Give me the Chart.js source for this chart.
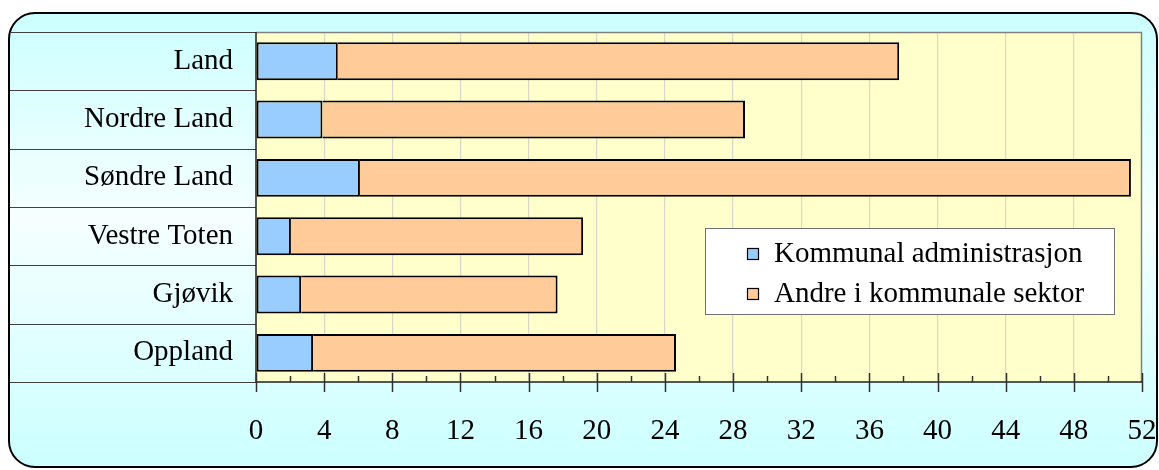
<!DOCTYPE html>
<html>
<head>
<meta charset="utf-8">
<script src="https://cdn.jsdelivr.net/npm/chart.js@4.4.0/dist/chart.umd.min.js"></script>
<style>
  html, body { margin: 0; padding: 0; background: #fff; }
  #wrap { width: 1159px; height: 470px; }
</style>
</head>
<body>
<div id="wrap"><canvas id="myChart"></canvas></div>
<script>
// data
var categories = ['Land', 'Nordre Land', 'Søndre Land', 'Vestre Toten', 'Gjøvik', 'Oppland'];
var adminValues = [4.8, 3.9, 6.1, 2.05, 2.65, 3.35];
var otherValues = [32.95, 24.8, 45.25, 17.15, 15.05, 21.3];
var seriesNames = ['Kommunal administrasjon', 'Andre i kommunale sektor'];
var seriesColors = ['#99CCFF', '#FFCC99'];
var xMin = 0, xMax = 52, xStep = 4;

var FONT = '"Liberation Serif", "Times New Roman", serif';
var FSIZE = 29;

function roundRect(ctx, x, y, w, h, r) {
  ctx.beginPath();
  ctx.moveTo(x + r, y);
  ctx.lineTo(x + w - r, y);
  ctx.arcTo(x + w, y, x + w, y + r, r);
  ctx.lineTo(x + w, y + h - r);
  ctx.arcTo(x + w, y + h, x + w - r, y + h, r);
  ctx.lineTo(x + r, y + h);
  ctx.arcTo(x, y + h, x, y + h - r, r);
  ctx.lineTo(x, y + r);
  ctx.arcTo(x, y, x + r, y, r);
  ctx.closePath();
}

var framePlugin = {
  id: 'frame',
  beforeDraw: function(chart) {
    var ctx = chart.ctx, a = chart.chartArea;
    ctx.save();
    ctx.fillStyle = '#ffffff';
    ctx.fillRect(0, 0, chart.width, chart.height);
    var g = ctx.createLinearGradient(0, 13, 0, 467);
    g.addColorStop(0, '#CCFFFF');
    g.addColorStop(0.45, '#F6FFFF');
    g.addColorStop(1, '#CCFFFF');
    roundRect(ctx, 9, 13, 1148, 454, 26);
    ctx.fillStyle = g;
    ctx.fill();
    ctx.lineWidth = 2;
    ctx.strokeStyle = '#000000';
    ctx.stroke();
    ctx.fillStyle = '#FFFFCC';
    ctx.fillRect(a.left, a.top, a.right - a.left, a.bottom - a.top);
    ctx.restore();
  },
  beforeDatasetsDraw: function(chart) {
    var ctx = chart.ctx, a = chart.chartArea;
    ctx.save();
    ctx.strokeStyle = '#808080';
    ctx.lineWidth = 1.5;
    ctx.beginPath();
    ctx.moveTo(a.left, a.top + 0.5);
    ctx.lineTo(a.right - 0.5, a.top + 0.5);
    ctx.lineTo(a.right - 0.5, a.bottom);
    ctx.stroke();
    ctx.restore();
  },
  afterDraw: function(chart) {
    var ctx = chart.ctx, a = chart.chartArea;
    var xs = chart.scales.x;
    ctx.save();
    // separators in the label area
    var band = (a.bottom - a.top) / categories.length;
    ctx.strokeStyle = '#404040';
    ctx.lineWidth = 1;
    for (var i = 0; i <= categories.length; i++) {
      var y = Math.round(a.top + i * band) + 0.5;
      ctx.beginPath();
      ctx.moveTo(10, y);
      ctx.lineTo(a.left, y);
      ctx.stroke();
    }
    // axes
    ctx.strokeStyle = '#202020';
    ctx.lineWidth = 1.5;
    ctx.beginPath();
    ctx.moveTo(a.left, a.top);
    ctx.lineTo(a.left, a.bottom);
    ctx.lineTo(a.right, a.bottom);
    ctx.stroke();
    // major and minor ticks
    ctx.strokeStyle = '#303030';
    for (var v = xMin; v <= xMax; v += xStep / 2) {
      var x = Math.round(xs.getPixelForValue(v)) + 0.5;
      ctx.beginPath();
      if (v % xStep === 0) {
        ctx.moveTo(x, a.bottom - 9);
        ctx.lineTo(x, a.bottom + 10);
      } else {
        ctx.moveTo(x, a.bottom - 6);
        ctx.lineTo(x, a.bottom);
      }
      ctx.stroke();
    }
    // legend
    var lx = 705, ly = 228, lw = 409, lh = 86;
    ctx.fillStyle = '#ffffff';
    ctx.fillRect(lx, ly, lw, lh);
    ctx.strokeStyle = '#707070';
    ctx.lineWidth = 1;
    ctx.strokeRect(lx + 0.5, ly + 0.5, lw, lh);
    ctx.font = FSIZE + 'px ' + FONT;
    ctx.textBaseline = 'middle';
    ctx.textAlign = 'left';
    var rows = [253, 293];
    chart.data.datasets.forEach(function(ds, k) {
      ctx.fillStyle = ds.backgroundColor;
      ctx.fillRect(747, rows[k] - 5, 12, 12);
      ctx.strokeStyle = '#000000';
      ctx.lineWidth = 1.2;
      ctx.strokeRect(747.5, rows[k] - 4.5, 11, 11);
      ctx.fillStyle = '#000000';
      ctx.fillText(ds.label, 774, rows[k] + 1);
    });
    ctx.restore();
  }
};

var myChart = document.getElementById('myChart').getContext('2d');
var chart = new Chart(myChart, {
  type: 'bar',
  data: {
    labels: categories,
    datasets: [{
      label: seriesNames[0],
      data: adminValues,
      backgroundColor: seriesColors[0],
      borderColor: '#000000',
      borderWidth: 2,
      borderSkipped: false,
      barPercentage: 0.65,
      categoryPercentage: 1
    }, {
      label: seriesNames[1],
      data: otherValues,
      backgroundColor: seriesColors[1],
      borderColor: '#000000',
      borderWidth: { top: 2, bottom: 2, right: 2, left: 0 },
      borderSkipped: false,
      barPercentage: 0.65,
      categoryPercentage: 1
    }]
  },
  options: {
    indexAxis: 'y',
    responsive: true,
    maintainAspectRatio: false,
    animation: false,
    layout: { padding: { top: 32, left: 9, right: 17, bottom: 0 } },
    plugins: {
      legend: { display: false },
      tooltip: { enabled: false }
    },
    scales: {
      x: {
        stacked: true,
        min: xMin,
        max: xMax,
        afterFit: function(scale) {
          scale.height = 88;
          scale.paddingLeft = 0;
          scale.paddingRight = 0;
        },
        ticks: {
          stepSize: xStep,
          color: '#000000',
          font: { family: FONT, size: FSIZE },
          padding: 32,
          maxRotation: 0,
          autoSkip: false
        },
        grid: {
          color: function(c) {
            return (c.tick && (c.tick.value === xMin || c.tick.value === xMax)) ? 'rgba(0,0,0,0)' : '#D8D8C4';
          },
          lineWidth: 1.2,
          drawTicks: false
        },
        border: { display: false }
      },
      y: {
        stacked: true,
        afterFit: function(scale) {
          scale.width = 247;
          scale.paddingTop = 0;
          scale.paddingBottom = 0;
        },
        ticks: {
          color: '#000000',
          font: { family: FONT, size: FSIZE },
          padding: 23
        },
        grid: { display: false, drawTicks: false },
        border: { display: false }
      }
    }
  },
  plugins: [framePlugin]
});
</script>
</body>
</html>
